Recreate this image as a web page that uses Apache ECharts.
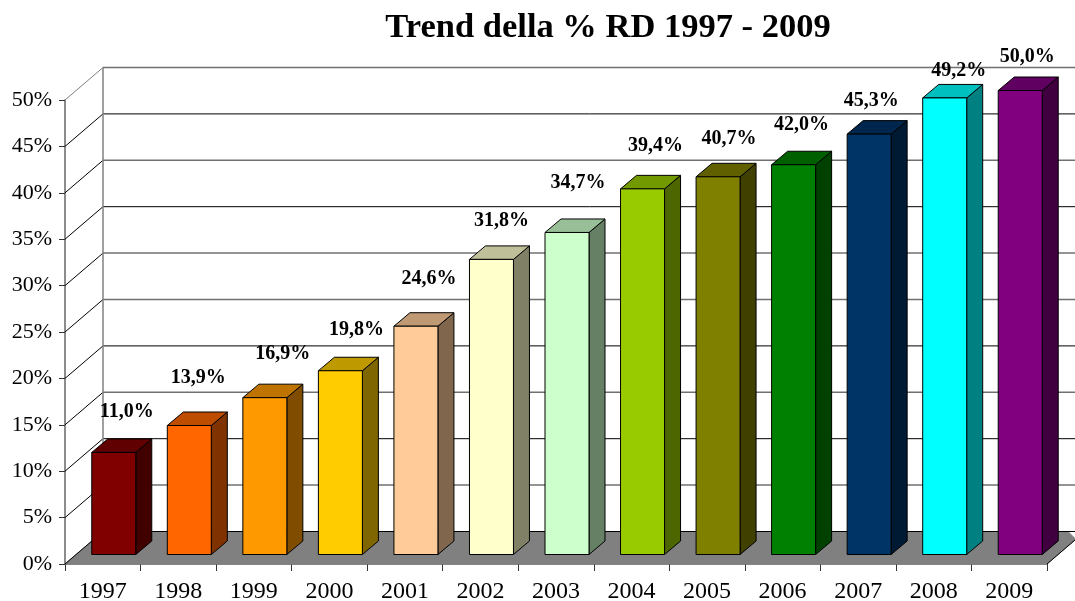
<!DOCTYPE html>
<html>
<head>
<meta charset="utf-8">
<script src="https://cdn.jsdelivr.net/npm/echarts@6/dist/echarts.min.js"></script>
<style>
html, body { margin: 0; padding: 0; background: #fff; }
#main { width: 1075px; height: 601px; }
</style>
</head>
<body>
<div id="main"></div>
<script>
var years = ['1997', '1998', '1999', '2000', '2001', '2002', '2003', '2004', '2005', '2006', '2007', '2008', '2009'];
var percents = [11.0, 13.9, 16.9, 19.8, 24.6, 31.8, 34.7, 39.4, 40.7, 42.0, 45.3, 49.2, 50.0];
var valueLabels = ['11,0%', '13,9%', '16,9%', '19,8%', '24,6%', '31,8%', '34,7%', '39,4%', '40,7%', '42,0%', '45,3%', '49,2%', '50,0%'];
var yTicks = [50, 45, 40, 35, 30, 25, 20, 15, 10, 5, 0];
var grayTicks = [50, 40, 30, 25, 15, 5];

// styling, kept apart from the data
var barColors = ['#800000', '#FF6600', '#FF9900', '#FFCC00', '#FFCC99', '#FFFFCC', '#CCFFCC', '#99CC00', '#808000', '#008000', '#003366', '#00FFFF', '#800080'];
var labelNudgeX = [24, 20, 29, 27, 24, 21, 22, 24, 22, 19, 13, 25, 18];
var labelNudgeY = [-50, -57, -53, -50, -57, -48, -59, -53, -47, -49, -43, -37, -43];
var wallDx = 38, wallDy = -32.5;
var barDx = 16, barDy = -13.5;
var barFrontDx = 11, barFrontDy = -9.5;
var barWidthPx = 44;
var serif = '"Liberation Serif", "Times New Roman", serif';

function shade(hex, k) {
    var n = parseInt(hex.slice(1), 16);
    var r = Math.round((n >> 16 & 255) * k);
    var g = Math.round((n >> 8 & 255) * k);
    var b = Math.round((n & 255) * k);
    return 'rgb(' + r + ',' + g + ',' + b + ')';
}

function renderFloor(params, api) {
    var half = api.size([1, 0])[0] / 2;
    var a = api.coord([0, 0]);
    var b = api.coord([years.length - 1, 0]);
    var left = a[0] - half, right = b[0] + half, y = a[1];
    return {
        type: 'group',
        children: [{
            type: 'polygon',
            // the far right corner is cut off in the original picture
            shape: {
                points: [
                    [left, y],
                    [left + wallDx, y + wallDy],
                    [right + 21, y + wallDy],
                    [right + 28, y + wallDy + 7],
                    [right + 28, y - 24],
                    [right, y]
                ]
            },
            style: { fill: '#808080', stroke: '#808080', lineWidth: 1 }
        }, {
            type: 'line',
            shape: { x1: right, y1: y, x2: right + 28, y2: y - 24 },
            style: { stroke: '#000', lineWidth: 1 }
        }]
    };
}

function renderWallLine(params, api) {
    var half = api.size([1, 0])[0] / 2;
    var value = api.value(1);
    var p = api.coord([0, value]);
    var q = api.coord([years.length - 1, value]);
    var left = p[0] - half, right = q[0] + half, y = p[1];
    var isGray = grayTicks.indexOf(value) >= 0;
    return {
        type: 'group',
        children: [{
            type: 'line',
            shape: { x1: left, y1: y, x2: left + wallDx, y2: y + wallDy },
            style: { stroke: value === 50 ? '#808080' : '#000', lineWidth: 1 }
        }, {
            type: 'line',
            shape: { x1: left + wallDx, y1: y + wallDy, x2: right + wallDx, y2: y + wallDy },
            style: { stroke: isGray ? '#707070' : '#000', lineWidth: isGray ? 1.5 : 1 }
        }]
    };
}

function renderWallEdge(params, api) {
    var half = api.size([1, 0])[0] / 2;
    var bottom = api.coord([0, 0]);
    var top = api.coord([0, 50]);
    var x = bottom[0] - half + wallDx;
    return {
        type: 'line',
        shape: { x1: x, y1: bottom[1] + wallDy, x2: x, y2: top[1] + wallDy },
        style: { stroke: '#808080', lineWidth: 1.5 }
    };
}

function renderBar(params, api) {
    var i = params.dataIndex;
    var top = api.coord([i, api.value(1)]);
    var base = api.coord([i, 0]);
    var x0 = top[0] - barWidthPx / 2 + barFrontDx;
    var x1 = x0 + barWidthPx;
    var yt = top[1] + barFrontDy;
    var yb = base[1] + barFrontDy;
    var color = barColors[i];
    var edge = { stroke: '#000', lineWidth: 1 };
    return {
        type: 'group',
        children: [{
            type: 'polygon',
            shape: { points: [[x1, yt], [x1 + barDx, yt + barDy], [x1 + barDx, yb + barDy], [x1, yb]] },
            style: Object.assign({ fill: shade(color, 0.5) }, edge)
        }, {
            type: 'polygon',
            shape: { points: [[x0, yt], [x0 + barDx, yt + barDy], [x1 + barDx, yt + barDy], [x1, yt]] },
            style: Object.assign({ fill: shade(color, 0.75) }, edge)
        }, {
            type: 'polygon',
            shape: { points: [[x0, yt], [x1, yt], [x1, yb], [x0, yb]] },
            style: Object.assign({ fill: color }, edge)
        }, {
            type: 'text',
            z2: 100,
            style: {
                x: top[0] + labelNudgeX[i],
                y: top[1] + labelNudgeY[i],
                text: valueLabels[i],
                fill: '#000',
                font: 'bold 20px ' + serif,
                align: 'center',
                verticalAlign: 'middle'
            }
        }]
    };
}

var chart = echarts.init(document.getElementById('main'));
chart.setOption({
    animation: false,
    backgroundColor: '#fff',
    title: {
        text: 'Trend della % RD 1997 - 2009',
        left: 603,
        top: 6,
        textAlign: 'center',
        textStyle: { fontFamily: serif, fontWeight: 'bold', fontSize: 34.5, color: '#000' }
    },
    grid: { left: 65, right: 28, top: 100, bottom: 37, outerBoundsMode: 'none' },
    xAxis: {
        type: 'category',
        data: years,
        axisLine: { show: true, lineStyle: { color: '#666', width: 1.5 } },
        axisTick: { show: true, alignWithLabel: false, length: 7, lineStyle: { color: '#333' } },
        axisLabel: { fontFamily: serif, fontSize: 24, color: '#000', margin: 16 },
        splitLine: { show: false }
    },
    yAxis: {
        type: 'value',
        min: 0,
        max: 50,
        interval: 5,
        axisLine: { show: true, lineStyle: { color: '#666', width: 1.5 } },
        axisTick: { show: true, length: 6, lineStyle: { color: '#333' } },
        axisLabel: { fontFamily: serif, fontSize: 22, color: '#000', margin: 13, formatter: '{value}%' },
        splitLine: { show: false }
    },
    series: [{
        type: 'custom',
        name: 'floor',
        renderItem: renderFloor,
        clip: false,
        silent: true,
        z: 1,
        data: [[0, 0]]
    }, {
        type: 'custom',
        name: 'walls',
        renderItem: renderWallLine,
        clip: false,
        silent: true,
        z: 2,
        encode: { x: 0, y: 1 },
        data: yTicks.map(function (v) { return [0, v]; })
    }, {
        type: 'custom',
        name: 'wall edge',
        renderItem: renderWallEdge,
        clip: false,
        silent: true,
        z: 2,
        data: [[0, 0]]
    }, {
        type: 'custom',
        name: 'RD',
        renderItem: renderBar,
        clip: false,
        z: 3,
        encode: { x: 0, y: 1 },
        data: percents.map(function (v, i) { return [i, v]; })
    }]
});
</script>
</body>
</html>
